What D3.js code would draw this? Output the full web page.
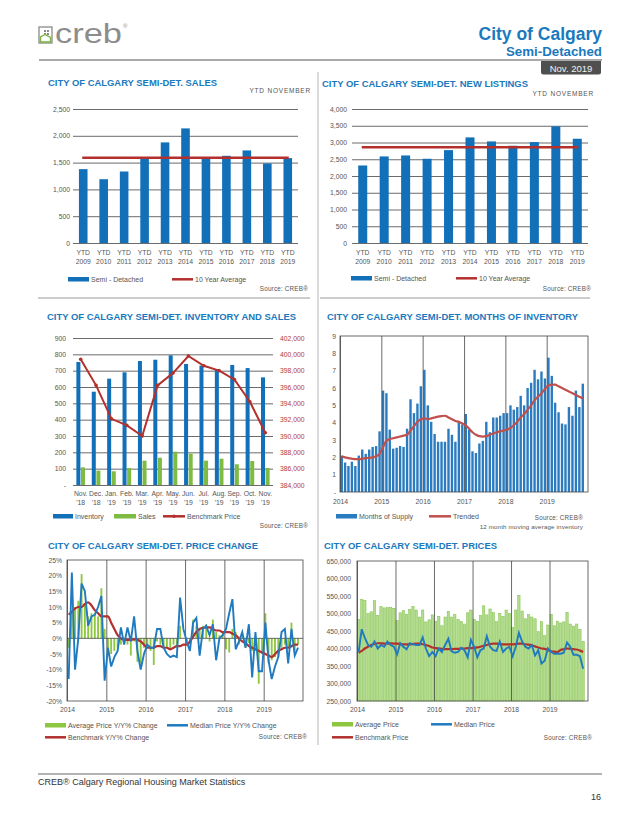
<!DOCTYPE html>
<html>
<head>
<meta charset="utf-8">
<script src="https://cdn.jsdelivr.net/npm/d3@7"></script>
<style>
  body { margin: 0; background: #fff; }
  svg text { font-family: "Liberation Sans", Arial, sans-serif; }
</style>
</head>
<body>
<svg id="page" width="638" height="826"></svg>
<script>
/*  Data  */
var ytdYears = ["2009","2010","2011","2012","2013","2014","2015","2016","2017","2018","2019"];
var salesYtd = [1378, 1190, 1334, 1596, 1877, 2138, 1592, 1627, 1727, 1484, 1584];
var salesAvg = 1590;
var listingsYtd = [2314, 2584, 2613, 2514, 2773, 3152, 3032, 2903, 3012, 3481, 3112];
var listingsAvg = 2860;

var invMonthLabels = ["Nov.","Dec.","Jan.","Feb.","Mar.","Apr.","May.","Jun.","Jul.","Aug.","Sep.","Oct.","Nov."];
var invYearLabels = ["'18","'18","'19","'19","'19","'19","'19","'19","'19","'19","'19","'19","'19"];
var inventory = [753, 571, 651, 690, 759, 767, 794, 741, 731, 710, 735, 716, 659];
var invSales = [108, 88, 84, 104, 149, 167, 204, 192, 149, 161, 127, 147, 104];
var invBenchmark = [399400, 396200, 392100, 391300, 390000, 396200, 397700, 399800, 398600, 398000, 396900, 394200, 390400];

// Jan 2014 .. Nov 2019
var monthsOfSupply = [
  2.1, 1.7, 1.5, 1.75, 1.5, 2.1, 2.45, 2.2, 2.45, 2.6, 2.65, 3.5,
  5.85, 5.7, 3.6, 2.5, 2.55, 2.65, 2.6, 3.65, 5.35, 4.55, 5.1, 6.1,
  7.05, 5.0, 4.05, 3.35, 2.9, 2.9, 2.9, 3.65, 3.3, 2.9, 4.05, 3.9,
  4.5, 3.6, 2.35, 2.25, 2.8, 2.95, 4.05, 3.45, 4.3, 4.3, 4.4, 4.55,
  4.55, 5.0, 4.75, 4.9, 5.55, 5.0, 6.0, 6.3, 7.05, 6.5, 6.95, 6.55,
  7.75, 6.7, 5.15, 4.6, 3.95, 3.9, 4.9, 4.4, 5.85, 4.9, 6.25];
var moiTrended = [
  2.05, 2.0, 1.95, 1.92, 1.9, 1.9, 1.92, 1.95, 1.97, 2.0, 2.05, 2.2,
  2.6, 2.95, 3.05, 3.1, 3.15, 3.2, 3.25, 3.3, 3.55, 3.8, 4.05, 4.2,
  4.25, 4.2, 4.25, 4.3, 4.35, 4.38, 4.4, 4.3, 4.2, 4.1, 4.05, 3.95,
  3.85, 3.65, 3.45, 3.3, 3.22, 3.2, 3.22, 3.3, 3.38, 3.45, 3.5, 3.55,
  3.6, 3.7, 3.85, 4.05, 4.3, 4.5, 4.75, 5.0, 5.3, 5.5, 5.7, 5.95,
  6.15, 6.2, 6.2, 6.1, 6.0, 5.9, 5.8, 5.7, 5.6, 5.5, 5.4];

var avgPriceChange = [
  -3, 8, 10, 12, 20.5, 11, 7, 8, 8, 7, 16, 3,
  -4, -5, -4, -3, -2, -1, -2, -5.5, -1, -7.5, -8, -3,
  -2, -4, -8.5, -1, -2, -3, -3, -3.5, -2, -3, 4, 0,
  -1, -2, 6, 4, 3, 4, 4.5, -1, 6, 2, 1, 2,
  -3.5, -4.5, 3, 2, -2, 1, -3, -1.5, -4, -3, -14.5, -5,
  8, -8, -7, -6, -6, -3, -2, -3, 5, -4, -2];
var medianPriceChange = [
  -13, 21, -10, 0, 17.5, 15, 4, 7, 7.5, 10, 13.5, -13.5,
  -3, -9, -6, -4, 3.5, -2, 3.5, -1, 7, -4, -10, -5,
  -2, -3, -3, 3, 3, -3, -5, -6, -5.5, -6, 13, 3,
  -1, -4, 5, 6.5, -5.5, 3, 4, 1, 4.5, -7, 0, 1,
  3, 8, 12.5, -3.5, -1, 2, -3, 4.5, -12.5, 2, -10.5, -10.5,
  5, -7, -13, -9, -6, 2, 3, -8, 3, -5.5, -3];
var benchmarkChange = [
  7.5, 8.5, 9.5, 10, 10, 11, 11.5, 10.5, 9, 8, 7, 7,
  7, 5, 3, 1, 0, -0.5, -0.5, -0.5, -0.3, -0.5, -1, -2,
  -3, -3, -3, -2.5, -2.5, -3, -3, -3.5, -3, -2.5, -2.5, -2,
  -2, -1, 0.5, 2, 3, 3.3, 3.5, 3.5, 3, 2.5, 2.5, 2,
  2, 2, 1.5, 1, 0, -1, -1.5, -2.5, -3, -3.5, -4, -4.5,
  -5, -5.5, -6, -5, -4, -3.5, -3, -3, -2.5, -2, -2];

var avgPrice = [
  483000, 540000, 538000, 500000, 505000, 537000, 495000, 520000, 516000, 517000, 518000, 515000,
  480000, 502000, 508000, 498000, 512000, 520000, 510000, 490000, 510000, 476000, 482000, 496000,
  478000, 492000, 465000, 490000, 506000, 490000, 497000, 483000, 477000, 470000, 502000, 510000,
  483000, 478000, 495000, 522000, 496000, 513000, 503000, 477000, 500000, 492000, 510000, 500000,
  460000, 510000, 552000, 507000, 485000, 497000, 490000, 485000, 448000, 477000, 437000, 467000,
  498000, 465000, 478000, 473000, 476000, 503000, 470000, 464000, 470000, 455000, 420000];
var medianPrice = [
  390000, 455000, 430000, 410000, 405000, 420000, 400000, 410000, 405000, 420000, 410000, 405000,
  383000, 415000, 405000, 398000, 415000, 412000, 410000, 410000, 432000, 400000, 378000, 390000,
  378000, 400000, 390000, 410000, 428000, 392000, 388000, 390000, 402000, 395000, 375000, 425000,
  405000, 375000, 395000, 400000, 435000, 405000, 395000, 393000, 420000, 390000, 400000, 405000,
  378000, 405000, 445000, 420000, 405000, 400000, 410000, 380000, 395000, 357000, 365000, 400000,
  390000, 385000, 385000, 385000, 388000, 417000, 405000, 382000, 382000, 378000, 342000];
var benchmarkPrice = [
  388000, 393000, 400000, 405000, 410000, 413000, 415000, 415000, 414000, 414000, 415000, 414000,
  414000, 413000, 412000, 412000, 412000, 413000, 414000, 414000, 412000, 410000, 407000, 403000,
  401000, 400000, 399000, 398000, 398000, 398000, 399000, 399000, 400000, 400000, 401000, 401000,
  402000, 403000, 405000, 408000, 410000, 413000, 414000, 414000, 413000, 412000, 412000, 412000,
  412000, 413000, 414000, 414000, 412000, 411000, 409000, 406000, 403000, 400000, 399000, 396000,
  392000, 391000, 390000, 396000, 398000, 400000, 399000, 398000, 397000, 394000, 390000];

var yearTicks = ["2014","2015","2016","2017","2018","2019"];

/*  Styles  */
var BLUE = "#1170b8", RED = "#b3302d", GREEN = "#7dbb42", TITLE = "#1b79be";
var GRID = "#454545", LABEL = "#555", FONT = "Liberation Sans, Arial, sans-serif";
var fmtComma = d3.format(",");

var svg = d3.select("#page");

/*  Helpers  */
function Text(x, y, str, size, attrs) {
  var t = svg.append("text").attr("x", x).attr("y", y).attr("font-size", size).text(str);
  for (var k in attrs) t.attr(k, attrs[k]);
  return t;
}
function Line(x1, y1, x2, y2, color, w) {
  return svg.append("line").attr("x1", x1).attr("y1", y1).attr("x2", x2).attr("y2", y2)
    .attr("stroke", color).attr("stroke-width", w);
}
function Title(x, y, str, len) {
  return Text(x, y, str, 9, {"font-weight": "bold", fill: TITLE, textLength: len, lengthAdjust: "spacingAndGlyphs"});
}
function Source(x, y) {
  return Text(x, y, "Source: CREB®", 6.3, {fill: LABEL, "text-anchor": "end", "letter-spacing": 0.2});
}
function LegendRect(x, y, w, color, label) {
  svg.append("rect").attr("x", x).attr("y", y - 4.5).attr("width", w).attr("height", 4.5).attr("fill", color);
  Text(x + w + 2, y, label, 7, {fill: LABEL});
}
function LegendLine(x, y, w, color, label) {
  Line(x, y - 2.2, x + w, y - 2.2, color, 2.5);
  Text(x + w + 2, y, label, 7, {fill: LABEL});
}
function styleAxis(g) {
  g.attr("font-family", FONT).attr("font-size", 6.8);
  g.select(".domain").remove();
  g.selectAll("line").attr("stroke", GRID).attr("stroke-width", 0.8);
  g.selectAll("text").attr("fill", LABEL);
  return g;
}
function yAxis(scale, x, vals, fmt, pad, grid) {
  var ax = d3.axisLeft(scale).tickValues(vals).tickFormat(fmt)
    .tickSizeOuter(0).tickSizeInner(grid ? -grid : 0).tickPadding(pad);
  return styleAxis(svg.append("g").attr("transform", "translate(" + x + ",0)").call(ax));
}
function yearAxis(scale, y, h, pad) {
  var ax = d3.axisBottom(scale).tickValues(yearTicks.map(function(d){ return new Date(+d, 0, 1); }))
    .tickFormat(d3.timeFormat("%Y")).tickSizeOuter(0).tickSizeInner(-h).tickPadding(pad);
  return styleAxis(svg.append("g").attr("transform", "translate(0," + y + ")").call(ax));
}
function Frame(x0, y0, x1, y1) {
  svg.append("rect").attr("x", x0).attr("y", y0).attr("width", x1 - x0).attr("height", y1 - y0)
    .attr("fill", "none").attr("stroke", GRID).attr("stroke-width", 0.8);
}

var months = d3.timeMonth.range(new Date(2014, 0, 1), new Date(2019, 11, 1));
function monthScale(x0, x1) {
  return d3.scaleTime().domain([new Date(2014, 0, 1), new Date(2020, 0, 1)]).range([x0, x1]);
}
function mid(xs, i) {
  return (xs(months[i]) + xs(d3.timeMonth.offset(months[i], 1))) / 2;
}

/*  Page header  */
svg.append("rect").attr("x", 39).attr("y", 27).attr("width", 13).attr("height", 16)
  .attr("fill", "none").attr("stroke", "#8a8a8a").attr("stroke-width", 1.3);
[[44, 30], [47, 30], [44, 33], [47, 33]].forEach(function(p){
  svg.append("rect").attr("x", p[0]).attr("y", p[1]).attr("width", 2).attr("height", 2).attr("fill", "#8a8a8a");
});
svg.append("path").attr("d", "M40.5,42 L40.5,37 L45,34.5 L50.5,37.5 L50.5,42 Z")
  .attr("fill", "none").attr("stroke", "#7cb342").attr("stroke-width", 1.4);
Text(55, 43, "creb", 27, {fill: "#8c8c8c", textLength: 67, lengthAdjust: "spacingAndGlyphs",
  "font-family": "Open Sans, Liberation Sans, sans-serif", "font-weight": 300});
Text(123, 28, "®", 6, {fill: "#8c8c8c"});

Text(602, 40, "City of Calgary", 17.5, {fill: TITLE, "font-weight": "bold", "text-anchor": "end"});
Text(602, 56, "Semi-Detached", 13.3, {fill: TITLE, "font-weight": "bold", "text-anchor": "end"});
Line(39, 60, 602, 60, "#8c8c8c", 1.4);
svg.append("path").attr("d", "M541,61 H601 V72 Q601,74.5 598.5,74.5 H543.5 Q541,74.5 541,72 Z").attr("fill", "#4f4f4f");
Text(571, 71.5, "Nov. 2019", 9.5, {fill: "#f2f2f2", "text-anchor": "middle"});

// dividers
Line(318, 72, 318, 745, "#b5b5b5", 1);
Line(38, 298, 310, 298, "#9a9a9a", 1);
Line(320, 298, 590, 298, "#9a9a9a", 1);

/*  YTD bar charts  */
function ytdChart(o) {
  var x = d3.scaleBand().domain(ytdYears).range([o.left, o.right]).paddingInner(0.58).paddingOuter(0.29);
  var y = d3.scaleLinear().domain([0, o.max]).range([o.bottom, o.top]);
  yAxis(y, o.left, d3.range(0, o.max + 1, 500), fmtComma, o.pad, o.right - o.left);
  svg.append("g").selectAll("rect").data(o.values).join("rect")
    .attr("x", function(d, i){ return x(ytdYears[i]); })
    .attr("y", function(d){ return y(d); })
    .attr("width", x.bandwidth())
    .attr("height", function(d){ return y(0) - y(d); })
    .attr("fill", BLUE);
  var c0 = x(ytdYears[0]) + x.bandwidth() / 2, c1 = x(ytdYears[10]) + x.bandwidth() / 2;
  Line(c0 - 1, y(o.avg), c1 + 1, y(o.avg), RED, 2.5);
  ytdYears.forEach(function(yr){
    var cx = x(yr) + x.bandwidth() / 2;
    Text(cx, o.bottom + 11.5, "YTD", 6.8, {fill: LABEL, "text-anchor": "middle"});
    Text(cx, o.bottom + 20.5, yr, 6.8, {fill: LABEL, "text-anchor": "middle"});
  });
  Title(o.titleX, o.titleY, o.title, o.titleLen);
  Text(o.ytdX, o.ytdY, "YTD NOVEMBER", 6.5, {fill: LABEL, "text-anchor": "end", "letter-spacing": 0.8});
  LegendRect(o.legX, o.legY, 21, BLUE, "Semi - Detached");
  LegendLine(o.legX2, o.legY, 21, RED, "10 Year Average");
  Source(o.srcX, o.srcY);
}

ytdChart({left: 73, right: 298, top: 109, bottom: 243, max: 2500, pad: 3, values: salesYtd, avg: salesAvg,
  title: "CITY OF CALGARY SEMI-DET. SALES", titleX: 48, titleY: 86, titleLen: 169,
  ytdX: 311, ytdY: 93, legX: 68, legX2: 172, legY: 281.5, srcX: 308, srcY: 291});
ytdChart({left: 352, right: 588, top: 109, bottom: 243, max: 4000, pad: 5, values: listingsYtd, avg: listingsAvg,
  title: "CITY OF CALGARY SEMI-DET. NEW LISTINGS", titleX: 322, titleY: 87, titleLen: 206,
  ytdX: 594, ytdY: 96, legX: 351, legX2: 456, legY: 280.5, srcX: 591, srcY: 291});

/*  Inventory and sales  */
(function(){
  var left = 73, right = 273, top = 338, bottom = 485;
  var idx = d3.range(inventory.length);
  var x = d3.scaleBand().domain(idx).range([left, right]).paddingInner(0.44).paddingOuter(0.22);
  var y = d3.scaleLinear().domain([0, 900]).range([bottom, top]);
  var y2 = d3.scaleLinear().domain([384000, 402000]).range([bottom, top]);
  yAxis(y, left, d3.range(0, 901, 100), function(d){ return d === 0 ? "-" : d; }, 7, right - left);
  var ra = d3.axisRight(y2).tickValues(d3.range(384000, 402001, 2000)).tickFormat(fmtComma)
    .tickSizeOuter(0).tickSizeInner(0).tickPadding(7);
  styleAxis(svg.append("g").attr("transform", "translate(" + right + ",0)").call(ra))
    .selectAll("text").attr("fill", "#b03a3a");
  var bw = x.bandwidth() / 2;
  svg.append("g").selectAll("rect").data(inventory).join("rect")
    .attr("x", function(d, i){ return x(i); }).attr("y", function(d){ return y(d); })
    .attr("width", bw - 0.3).attr("height", function(d){ return y(0) - y(d); }).attr("fill", BLUE);
  svg.append("g").selectAll("rect").data(invSales).join("rect")
    .attr("x", function(d, i){ return x(i) + bw + 0.3; }).attr("y", function(d){ return y(d); })
    .attr("width", bw - 0.3).attr("height", function(d){ return y(0) - y(d); }).attr("fill", GREEN);
  var cx = function(d, i){ return x(i) + x.bandwidth() / 2; };
  svg.append("path").datum(invBenchmark)
    .attr("d", d3.line().x(cx).y(function(d){ return y2(d); }))
    .attr("fill", "none").attr("stroke", RED).attr("stroke-width", 2);
  svg.append("g").selectAll("circle").data(invBenchmark).join("circle")
    .attr("cx", cx).attr("cy", function(d){ return y2(d); }).attr("r", 1.8).attr("fill", RED);
  idx.forEach(function(i){
    var c = x(i) + x.bandwidth() / 2;
    Text(c, 495.5, invMonthLabels[i], 6.8, {fill: LABEL, "text-anchor": "middle"});
    Text(c, 504.5, invYearLabels[i], 6.8, {fill: LABEL, "text-anchor": "middle"});
  });
  Title(47, 320, "CITY OF CALGARY SEMI-DET. INVENTORY AND SALES", 249);
  LegendRect(53, 518.5, 20, BLUE, "Inventory");
  LegendRect(114, 518.5, 22, GREEN, "Sales");
  LegendLine(163, 518.5, 22, RED, "Benchmark Price");
  svg.append("circle").attr("cx", 174).attr("cy", 516.3).attr("r", 1.8).attr("fill", RED);
  Source(308, 528);
})();

/*  Months of inventory  */
(function(){
  var left = 340, right = 588, top = 336, bottom = 492;
  var x = monthScale(left, right);
  var y = d3.scaleLinear().domain([0, 9]).range([bottom, top]);
  yAxis(y, left, d3.range(0, 10), function(d){ return d === 0 ? "-" : d; }, 4, 0);
  var bw = (x(months[1]) - x(months[0])) * 0.68;
  svg.append("g").selectAll("rect").data(monthsOfSupply).join("rect")
    .attr("x", function(d, i){ return mid(x, i) - bw / 2; }).attr("y", function(d){ return y(d); })
    .attr("width", bw).attr("height", function(d){ return y(0) - y(d); }).attr("fill", "#2a7bbf");
  yearAxis(x, bottom, bottom - top, 7.5);
  svg.append("path").datum(moiTrended)
    .attr("d", d3.line().x(function(d, i){ return mid(x, i); }).y(function(d){ return y(d); }).curve(d3.curveMonotoneX))
    .attr("fill", "none").attr("stroke", "#c0504d").attr("stroke-width", 2.2);
  Frame(left, top, right, bottom);
  Title(327, 320, "CITY OF CALGARY SEMI-DET. MONTHS OF INVENTORY", 251);
  LegendRect(336, 518.5, 21, "#2a7bbf", "Months of Supply");
  LegendLine(429, 518.5, 22, "#c0504d", "Trended");
  Source(583, 519.5);
  Text(583, 528.5, "12 month moving average inventory", 6.2, {fill: LABEL, "text-anchor": "end", "letter-spacing": 0.15});
})();

/*  Price change  */
(function(){
  var left = 67, right = 303, top = 560, bottom = 701;
  var x = monthScale(left, right);
  var y = d3.scaleLinear().domain([-20, 25]).range([bottom, top]);
  yAxis(y, left, d3.range(-20, 26, 5), function(d){ return d + "%"; }, 5, 0);
  var bw = (x(months[1]) - x(months[0])) * 0.55;
  svg.append("g").selectAll("rect").data(avgPriceChange).join("rect")
    .attr("x", function(d, i){ return mid(x, i) - bw / 2; })
    .attr("y", function(d){ return y(Math.max(d, 0)); })
    .attr("width", bw).attr("height", function(d){ return Math.abs(y(d) - y(0)); }).attr("fill", "#8dc63f");
  yearAxis(x, bottom, bottom - top, 6);
  Line(left, y(0), right, y(0), GRID, 0.8);
  svg.append("path").datum(benchmarkChange)
    .attr("d", d3.line().x(function(d, i){ return mid(x, i); }).y(function(d){ return y(d); }).curve(d3.curveMonotoneX))
    .attr("fill", "none").attr("stroke", RED).attr("stroke-width", 2.2);
  svg.append("path").datum(medianPriceChange)
    .attr("d", d3.line().x(function(d, i){ return mid(x, i); }).y(function(d){ return y(d); }))
    .attr("fill", "none").attr("stroke", "#1f7ac0").attr("stroke-width", 1.9);
  Frame(left, top, right, bottom);
  Title(48, 549, "CITY OF CALGARY SEMI-DET. PRICE CHANGE", 210);
  LegendRect(45, 727.5, 21, "#8dc63f", "Average Price Y/Y% Change");
  LegendLine(167, 727.5, 21, "#1f7ac0", "Median Price Y/Y% Change");
  LegendLine(45, 739.5, 21, RED, "Benchmark Y/Y% Change");
  Source(307, 738.5);
})();

/*  Prices  */
(function(){
  var left = 357, right = 588, top = 561, bottom = 701;
  var x = monthScale(left, right);
  var y = d3.scaleLinear().domain([250000, 650000]).range([bottom, top]);
  yAxis(y, left, d3.range(250000, 650001, 50000), fmtComma, 6, 0);
  var bw = (x(months[1]) - x(months[0])) * 0.72;
  svg.append("g").selectAll("rect").data(avgPrice).join("rect")
    .attr("x", function(d, i){ return mid(x, i) - bw / 2; }).attr("y", function(d){ return y(d); })
    .attr("width", bw).attr("height", function(d){ return bottom - y(d); })
    .attr("fill", "#b3dc8c").attr("stroke", "#7fbf4a").attr("stroke-width", 0.5);
  yearAxis(x, bottom, bottom - top, 6.5);
  svg.append("path").datum(benchmarkPrice)
    .attr("d", d3.line().x(function(d, i){ return mid(x, i); }).y(function(d){ return y(d); }).curve(d3.curveMonotoneX))
    .attr("fill", "none").attr("stroke", RED).attr("stroke-width", 2.2);
  svg.append("path").datum(medianPrice)
    .attr("d", d3.line().x(function(d, i){ return mid(x, i); }).y(function(d){ return y(d); }))
    .attr("fill", "none").attr("stroke", "#1f7ac0").attr("stroke-width", 1.9);
  Frame(left, top, right, bottom);
  Title(324, 549, "CITY OF CALGARY SEMI-DET. PRICES", 173);
  LegendRect(332, 726.5, 21, "#8dc63f", "Average Price");
  LegendLine(431, 726.5, 21, "#1f7ac0", "Median Price");
  LegendLine(332, 739.5, 21, RED, "Benchmark Price");
  Source(592, 739.5);
})();

/*  Footer  */
Line(38, 774, 602, 774, "#9a9a9a", 1.4);
Text(38, 785, "CREB® Calgary Regional Housing Market Statistics", 9, {fill: "#333"});
Text(601, 800, "16", 9, {fill: "#333", "text-anchor": "end"});
</script>
</body>
</html>
